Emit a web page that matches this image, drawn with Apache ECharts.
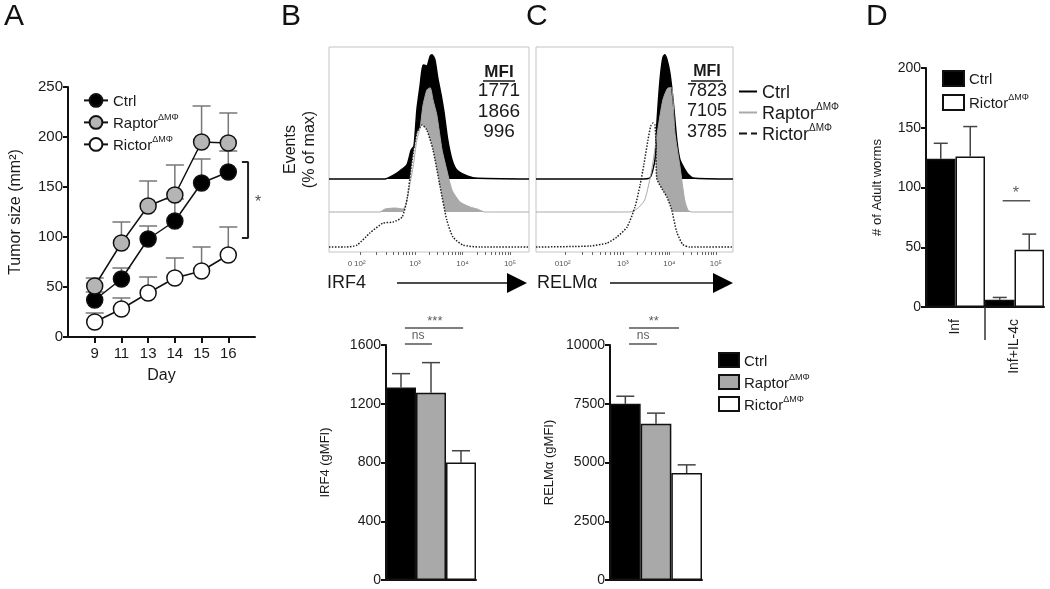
<!DOCTYPE html>
<html><head><meta charset="utf-8">
<script src="https://cdn.jsdelivr.net/npm/echarts@6/dist/echarts.min.js"></script>
<style>html,body{margin:0;padding:0;background:#fff}#c{width:1050px;height:589px}</style>
</head><body><div id="c"></div>
<script>
// ---------- Panel A: tumor size ----------
const days = ['9', '11', '13', '14', '15', '16'];
const ctrlTumor = [37, 58, 98, 116, 154, 165];
const ctrlTumorUpper = [45, 69, 111, 138, 178, 186];
const raptorTumor = [51, 94, 131, 142, 195, 194];
const raptorTumorUpper = [59, 115, 156, 172, 231, 224];
const rictorTumor = [15, 28, 44, 59, 66, 82];
const rictorTumorUpper = [24, 39, 60, 79, 90, 110];

// ---------- Panels B/C top: histograms [log10 position, % of max] ----------
const irf4Ctrl = [[1.19,0],[2.37,0],[2.52,2.4],[2.68,6.4],[2.83,11.3],[2.92,23.3],[2.98,26.6],[3.04,55.5],[3.11,75.7],[3.17,91.8],[3.25,91],[3.32,99],[3.36,100],[3.42,95.8],[3.48,81.3],[3.55,67.6],[3.61,53.9],[3.69,31.4],[3.78,15.3],[3.88,7.2],[4.05,3.2],[4.26,0.8],[5.40,0]];
const irf4Raptor = [[1.19,0],[2.26,0],[2.37,2.4],[2.58,3.2],[2.75,2.4],[2.81,5.6],[2.89,21.7],[2.96,36.2],[3.04,58],[3.11,68.4],[3.17,86.1],[3.25,98.2],[3.32,100],[3.38,90.2],[3.46,78.1],[3.57,50],[3.67,33.8],[3.78,17.7],[3.95,8],[4.16,4],[4.31,2.4],[4.47,0],[5.40,0]];
const irf4Rictor = [[1.19,0],[1.53,0],[1.78,1.6],[2.05,11.3],[2.33,19.3],[2.54,20.1],[2.73,24.1],[2.84,40.2],[2.94,70],[3.04,91.8],[3.15,98.2],[3.25,94.2],[3.38,78.1],[3.53,48.3],[3.67,21.7],[3.80,8],[4.01,1.6],[4.37,0],[5.40,0]];
const relmCtrl = [[1.13,0],[3.37,0],[3.58,0.8],[3.69,15.3],[3.73,43.5],[3.80,79.8],[3.86,97.6],[3.90,100],[3.95,96],[4.01,85.5],[4.08,63.7],[4.16,31.5],[4.23,15.3],[4.38,4.8],[4.51,0.8],[5.37,0]];
const relmRaptor = [[1.13,0],[3.15,0],[3.30,2.4],[3.47,9.7],[3.62,33.8],[3.75,66],[3.86,90.2],[3.97,99.8],[4.05,100],[4.12,63.7],[4.23,36.3],[4.33,9.7],[4.40,1.6],[4.48,0],[5.37,0]];
const relmRictor = [[1.13,0],[2.29,0.8],[2.66,3.2],[2.87,8],[3.09,16.1],[3.26,32.2],[3.37,49.9],[3.45,66],[3.54,86.1],[3.60,97.4],[3.65,99.8],[3.69,98.2],[3.71,85],[3.73,55],[3.84,47],[3.95,40],[4.05,30],[4.16,12],[4.29,2],[4.44,0],[5.37,0]];
const mfiIRF4 = ['1771', '1866', '996'];
const mfiRELM = ['7823', '7105', '3785'];
const histLabelText = ['0', '10²', '10³', '10⁴', '10⁵'];
const histLabelPosB = [1.63, 1.84, 3, 4, 5];
const histLabelPosC = [1.58, 1.75, 3, 4, 5];

// ---------- Panels B/C bottom: gMFI bars ----------
const groupsBC = ['Ctrl', 'Raptor', 'Rictor'];
const irf4Mean = [1310, 1275, 800];
const irf4Upper = [1405, 1480, 880];
const relmMean = [7500, 6650, 4550];
const relmUpper = [7820, 7100, 4900];

// ---------- Panel D: adult worms ----------
const wormGroups = ['Inf', 'Inf+IL-4c'];
const wormCtrl = [124, 6];
const wormCtrlUpper = [137, 8];
const wormRictor = [126, 48];
const wormRictorUpper = [151, 61];

// ---------- significance annotations [x1, x2, y, label, labelX, labelY] ----------
const sigA = [6.51, 6.74, 175, 99, '*', 7.12, 134];
const sigIRF4 = [[0.63, 1.53, 1607, 'ns', 1.07, 1661], [0.63, 2.57, 1716, '***', 1.63, 1760]];
const sigRELM = [[0.62, 1.53, 10040, 'ns', 1.08, 10383], [0.62, 2.25, 10720, '**', 1.43, 11000]];
const sigWorm = [[2.6, 3.53, 89, '*', 3.05, 95]];

const FONT = '"Liberation Sans", Arial, Helvetica, sans-serif';
const TXT = '#1a1a1a';
const GRAY = '#a9a9a9';

const chart = echarts.init(document.getElementById('c'));

const axLine = {show: true, lineStyle: {color: '#111', width: 2}};
const axTick = {show: true, length: 5, lineStyle: {color: '#111', width: 2}};
function lab(size, extra) { return Object.assign({color: TXT, fontSize: size, fontFamily: FONT, margin: 5, formatter: v => String(v)}, extra || {}); }
const noSplit = {show: false};

const richSup = {
  t: {fontSize: 15, fontFamily: FONT, color: TXT, lineHeight: 18, verticalAlign: 'bottom'},
  s: {fontSize: 9, fontFamily: FONT, color: TXT, lineHeight: 10, verticalAlign: 'top'}
};
const richSupBig = {
  t: {fontSize: 18, fontFamily: FONT, color: TXT, lineHeight: 21, verticalAlign: 'bottom'},
  s: {fontSize: 10, fontFamily: FONT, color: TXT, lineHeight: 11, verticalAlign: 'top'}
};
function fmtName(name) {
  const g = name.split('-')[1];
  return g === 'Ctrl' ? '{t|Ctrl}' : '{t|' + g + '}{s|ΔMΦ}';
}

function errRender(cap, color, width) {
  return function (params, api) {
    const x = api.value(0), m = api.value(1), u = api.value(2);
    const p0 = api.coord([x, m]), p1 = api.coord([x, u]);
    return {type: 'group', children: [
      {type: 'line', shape: {x1: p0[0], y1: p0[1], x2: p1[0], y2: p1[1]}, style: {stroke: color, lineWidth: width}},
      {type: 'line', shape: {x1: p1[0] - cap / 2, y1: p1[1], x2: p1[0] + cap / 2, y2: p1[1]}, style: {stroke: color, lineWidth: width}}
    ]};
  };
}

function minorTicks(p2) {
  const t = [];
  for (let k = 1; k <= 9; k++) {
    const l = Math.log10(k);
    t.push(p2 + l * (3 - p2));
    t.push(3 + l); t.push(4 + l);
  }
  t.push(5);
  return t;
}

function histX(grid, min, max, pos) {
  return {type: 'value', gridIndex: grid, min: min, max: max, position: 'bottom',
    axisLine: {show: false}, splitLine: noSplit,
    axisTick: {show: true, length: 3, lineStyle: {color: '#666', width: 1}, customValues: minorTicks(pos[1])},
    axisLabel: {show: true, color: '#555', fontSize: 8, fontFamily: FONT, margin: 8, customValues: pos,
      formatter: function (v) {
        let bi = 0; for (let i = 0; i < pos.length; i++) if (Math.abs(pos[i] - v) < Math.abs(pos[bi] - v)) bi = i;
        return histLabelText[bi];
      }}};
}
function hiddenY(grid, name) {
  return {type: 'value', gridIndex: grid, min: 0, max: 165, axisLine: {show: false}, axisTick: {show: false},
    axisLabel: {show: false}, splitLine: noSplit, name: name || '', nameLocation: 'middle', nameGap: 10,
    nameTextStyle: {fontSize: 16, fontFamily: FONT, color: TXT, lineHeight: 19}};
}

function histSeries(name, data, xi, yi, off, lineStyle, fill) {
  return {type: 'line', name: name, xAxisIndex: xi, yAxisIndex: yi, symbol: 'none', smooth: 0.2,
    color: lineStyle.color, itemStyle: {color: lineStyle.color},
    data: data.map(d => [d[0], off + d[1]]), lineStyle: lineStyle,
    areaStyle: {color: fill, opacity: 1, origin: off}, silent: true, z: 2};
}
const OFF_CTRL = 58.8, OFF_RAPTOR = 32.2, OFF_RICTOR = 4.0;

function sigSeries(sig, xi, yi) {
  const out = [];
  sig.forEach(s => {
    out.push({type: 'line', xAxisIndex: xi, yAxisIndex: yi, clip: false, symbol: 'none', silent: true,
      data: [[s[0], s[2]], [s[1], s[2]]], lineStyle: {color: '#555', width: 1.5}, z: 5});
    out.push({type: 'scatter', xAxisIndex: xi, yAxisIndex: yi, clip: false, symbolSize: 1, silent: true,
      itemStyle: {color: 'rgba(0,0,0,0)'},
      data: [[s[4], s[5]]],
      label: {show: true, position: 'inside', formatter: s[3], color: '#333',
        fontSize: s[3] === 'ns' ? 12 : (s[3] === '*' ? 16 : 13), fontFamily: FONT}, z: 5});
  });
  return out;
}

const barStyle = c => ({color: c, borderColor: '#111', borderWidth: 1.5});
const barColors = ['#000', GRAY, '#fff'];

const series = [];
// A: error bars
[[ctrlTumor, ctrlTumorUpper], [raptorTumor, raptorTumorUpper], [rictorTumor, rictorTumorUpper]].forEach(p => {
  series.push({type: 'custom', xAxisIndex: 0, yAxisIndex: 0, renderItem: errRender(18, '#777', 1.5), silent: true, z: 1,
    data: p[0].map((v, i) => [i + 1, v, p[1][i]])});
});
[['A-Ctrl', ctrlTumor, '#000'], ['A-Raptor', raptorTumor, '#b5b5b5'], ['A-Rictor', rictorTumor, '#fff']].forEach(s => {
  series.push({type: 'line', name: s[0], xAxisIndex: 0, yAxisIndex: 0, symbol: 'circle', symbolSize: 16,
    data: s[1].map((v, i) => [i + 1, v]), lineStyle: {color: '#111', width: 1.5},
    itemStyle: {color: s[2], borderColor: '#111', borderWidth: 1.5}, z: 3});
});
// A bracket
series.push({type: 'line', xAxisIndex: 0, yAxisIndex: 0, clip: false, symbol: 'none', silent: true,
  data: [[sigA[0], sigA[2]], [sigA[1], sigA[2]], [sigA[1], sigA[3]], [sigA[0], sigA[3]]], lineStyle: {color: '#222', width: 2}});
series.push({type: 'scatter', xAxisIndex: 0, yAxisIndex: 0, clip: false, symbolSize: 1, itemStyle: {color: 'rgba(0,0,0,0)'}, silent: true,
  data: [[sigA[5], sigA[6]]], label: {show: true, position: 'inside', formatter: sigA[4], color: '#222', fontSize: 16, fontFamily: FONT}});

// B/C histograms
series.push(histSeries('B-hCtrl', irf4Ctrl, 1, 1, OFF_CTRL, {color: '#000', width: 1.5}, '#000'));
series.push(histSeries('B-hRaptor', irf4Raptor, 1, 1, OFF_RAPTOR, {color: GRAY, width: 1}, GRAY));
series.push(histSeries('B-hRictor', irf4Rictor, 1, 1, OFF_RICTOR, {color: '#222', width: 1.5, type: 'dotted'}, '#fff'));
series.push(histSeries('C-Ctrl', relmCtrl, 2, 2, OFF_CTRL, {color: '#000', width: 1.5}, '#000'));
series.push(histSeries('C-Raptor', relmRaptor, 2, 2, OFF_RAPTOR, {color: GRAY, width: 1}, GRAY));
series.push(histSeries('C-Rictor', relmRictor, 2, 2, OFF_RICTOR, {color: '#222', width: 1.5, type: 'dotted'}, '#fff'));

// B/C bars
groupsBC.forEach((g, i) => {
  series.push({type: 'bar', name: 'B-' + g, xAxisIndex: 3, yAxisIndex: 3, data: [irf4Mean[i]],
    itemStyle: barStyle(barColors[i]), barGap: '0%', barCategoryGap: '0%', silent: true});
});
series.push({type: 'custom', xAxisIndex: 4, yAxisIndex: 3, renderItem: errRender(18, '#444', 1.5), silent: true,
  data: irf4Mean.map((v, i) => [i + 0.5, v, irf4Upper[i]])});
groupsBC.forEach((g, i) => {
  series.push({type: 'bar', name: 'Cb-' + g, xAxisIndex: 5, yAxisIndex: 4, data: [relmMean[i]],
    itemStyle: barStyle(barColors[i]), barGap: '0%', barCategoryGap: '0%', silent: true});
});
series.push({type: 'custom', xAxisIndex: 6, yAxisIndex: 4, renderItem: errRender(18, '#444', 1.5), silent: true,
  data: relmMean.map((v, i) => [i + 0.5, v, relmUpper[i]])});
series.push(...sigSeries(sigIRF4, 4, 3));
series.push(...sigSeries(sigRELM, 6, 4));

// D bars
series.push({type: 'bar', name: 'D-Ctrl', xAxisIndex: 7, yAxisIndex: 5, data: wormCtrl, itemStyle: barStyle('#000'), barGap: '0%', barCategoryGap: '0%', silent: true});
series.push({type: 'bar', name: 'D-Rictor', xAxisIndex: 7, yAxisIndex: 5, data: wormRictor, itemStyle: barStyle('#fff'), barGap: '0%', barCategoryGap: '0%', silent: true});
series.push({type: 'custom', xAxisIndex: 8, yAxisIndex: 5, renderItem: errRender(14, '#444', 1.5), silent: true,
  data: [[0.5, wormCtrl[0], wormCtrlUpper[0]], [1.5, wormRictor[0], wormRictorUpper[0]], [2.5, wormCtrl[1], wormCtrlUpper[1]], [3.5, wormRictor[1], wormRictorUpper[1]]]});
series.push(...sigSeries(sigWorm, 8, 5));

const letter = (t, x) => ({type: 'text', left: x, top: 2, style: {text: t, fontSize: 30, fontFamily: FONT, fill: '#111'}});
function mfiBlock(cx, vals, size) {
  const els = [
    {type: 'text', x: cx, y: 72, style: {text: 'MFI', fontSize: size - 2, fontWeight: 'bold', fontFamily: FONT, fill: TXT, align: 'center', verticalAlign: 'middle'}},
    {type: 'line', shape: {x1: cx - 16, y1: 81, x2: cx + 16, y2: 81}, style: {stroke: TXT, lineWidth: 1.5}}
  ];
  vals.forEach((v, i) => els.push({type: 'text', x: cx, y: 91 + i * 20.5, style: {text: v, fontSize: size, fontFamily: FONT, fill: TXT, align: 'center', verticalAlign: 'middle'}}));
  return els;
}
function arrow(textLabel, tx, x1, x2, y) {
  return [
    {type: 'text', x: tx, y: y, style: {text: textLabel, fontSize: 18, fontFamily: FONT, fill: TXT, verticalAlign: 'middle'}},
    {type: 'line', shape: {x1: x1, y1: y, x2: x2 - 18, y2: y}, style: {stroke: '#111', lineWidth: 1.5}},
    {type: 'polygon', shape: {points: [[x2 - 20, y - 10], [x2, y], [x2 - 20, y + 10]]}, style: {fill: '#000'}}
  ];
}
const noSym = {opacity: 0, borderWidth: 0, color: 'rgba(0,0,0,0)'};

const option = {
  animation: false,
  backgroundColor: '#fff',
  textStyle: {fontFamily: FONT},
  grid: [
    {left: 68, top: 87, width: 187, height: 250},
    {left: 329, top: 47, width: 200, height: 205, show: true, borderColor: '#c4c4c4', borderWidth: 1},
    {left: 536, top: 47, width: 197, height: 205, show: true, borderColor: '#c4c4c4', borderWidth: 1},
    {left: 386, top: 345, width: 90, height: 235},
    {left: 610, top: 345, width: 92, height: 235},
    {left: 926, top: 68, width: 118, height: 239}
  ],
  xAxis: [
    {type: 'value', gridIndex: 0, min: 0, max: 7, axisLine: axLine, splitLine: noSplit,
      axisTick: Object.assign({}, axTick, {length: 6, customValues: [1, 2, 3, 4, 5, 6]}),
      axisLabel: lab(15, {margin: 9, customValues: [1, 2, 3, 4, 5, 6], formatter: v => days[Math.round(v) - 1] || ''}),
      name: 'Day', nameLocation: 'middle', nameGap: 31, nameTextStyle: {fontSize: 16, fontFamily: FONT, color: TXT}},
    histX(1, 1.19, 5.40, histLabelPosB),
    histX(2, 1.13, 5.37, histLabelPosC),
    {type: 'category', gridIndex: 3, data: [''], axisLine: axLine, axisTick: {show: false}, axisLabel: {show: false}},
    {type: 'value', gridIndex: 3, min: 0, max: 3, show: false, position: 'bottom'},
    {type: 'category', gridIndex: 4, data: [''], axisLine: axLine, axisTick: {show: false}, axisLabel: {show: false}},
    {type: 'value', gridIndex: 4, min: 0, max: 3, show: false, position: 'bottom'},
    {type: 'category', gridIndex: 5, data: wormGroups, axisLine: axLine, axisTick: {show: false},
      axisLabel: {color: TXT, fontSize: 14, fontFamily: FONT, rotate: 90, margin: 12}},
    {type: 'value', gridIndex: 5, min: 0, max: 4, position: 'bottom', axisLine: {show: false}, axisLabel: {show: false}, splitLine: noSplit,
      axisTick: {show: true, length: 33, customValues: [2], lineStyle: {color: '#333', width: 1.5}}}
  ],
  yAxis: [
    {type: 'value', gridIndex: 0, min: 0, max: 250, interval: 50, axisLine: axLine, axisTick: axTick, splitLine: noSplit,
      axisLabel: lab(15), name: 'Tumor size (mm²)', nameLocation: 'middle', nameGap: 44,
      nameTextStyle: {fontSize: 16, fontFamily: FONT, color: TXT}},
    hiddenY(1, 'Events\n(% of max)'),
    hiddenY(2, ''),
    {type: 'value', gridIndex: 3, min: 0, max: 1600, interval: 400, axisLine: axLine, axisTick: axTick, splitLine: noSplit,
      axisLabel: lab(14), name: 'IRF4 (gMFI)', nameLocation: 'middle', nameGap: 54,
      nameTextStyle: {fontSize: 13, fontFamily: FONT, color: TXT}},
    {type: 'value', gridIndex: 4, min: 0, max: 10000, interval: 2500, axisLine: axLine, axisTick: axTick, splitLine: noSplit,
      axisLabel: lab(14), name: 'RELMα (gMFI)', nameLocation: 'middle', nameGap: 54,
      nameTextStyle: {fontSize: 13, fontFamily: FONT, color: TXT}},
    {type: 'value', gridIndex: 5, min: 0, max: 200, interval: 50, axisLine: axLine, axisTick: axTick, splitLine: noSplit,
      axisLabel: lab(14), name: '# of Adult worms', nameLocation: 'middle', nameGap: 42,
      nameTextStyle: {fontSize: 13, fontFamily: FONT, color: TXT}}
  ],
  legend: [
    {left: 78, top: 88, orient: 'vertical', itemGap: 4, itemWidth: 24, itemHeight: 16, selectedMode: false,
      data: ['A-Ctrl', 'A-Raptor', 'A-Rictor'], formatter: fmtName, textStyle: {rich: richSup}},
    {left: 733, top: 79, orient: 'vertical', itemGap: 0, itemWidth: 18, itemHeight: 14, selectedMode: false,
      data: [
        {name: 'C-Ctrl', itemStyle: noSym, lineStyle: {color: '#000', width: 2}},
        {name: 'C-Raptor', itemStyle: noSym, lineStyle: {color: GRAY, width: 2}},
        {name: 'C-Rictor', itemStyle: noSym, lineStyle: {type: 'dashed', width: 2, color: '#111'}}],
      formatter: fmtName, textStyle: {rich: richSupBig}},
    {left: 713, top: 347, orient: 'vertical', itemGap: 4, itemWidth: 20, itemHeight: 14, icon: 'rect', selectedMode: false,
      data: ['B-Ctrl', 'B-Raptor', 'B-Rictor'], formatter: fmtName, textStyle: {rich: richSup}},
    {left: 937, top: 65, orient: 'vertical', itemGap: 6, itemWidth: 21, itemHeight: 15, icon: 'rect', selectedMode: false,
      data: ['D-Ctrl', 'D-Rictor'], formatter: fmtName, textStyle: {rich: richSup}}
  ],
  graphic: [
    letter('A', 4), letter('B', 281), letter('C', 526), letter('D', 866),
    ...mfiBlock(499, mfiIRF4, 19),
    ...mfiBlock(707, mfiRELM, 18),
    ...arrow('IRF4', 327, 397, 527, 283),
    ...arrow('RELMα', 537, 610, 733, 283)
  ],
  series: series
};
chart.setOption(option);
</script>
</body></html>
